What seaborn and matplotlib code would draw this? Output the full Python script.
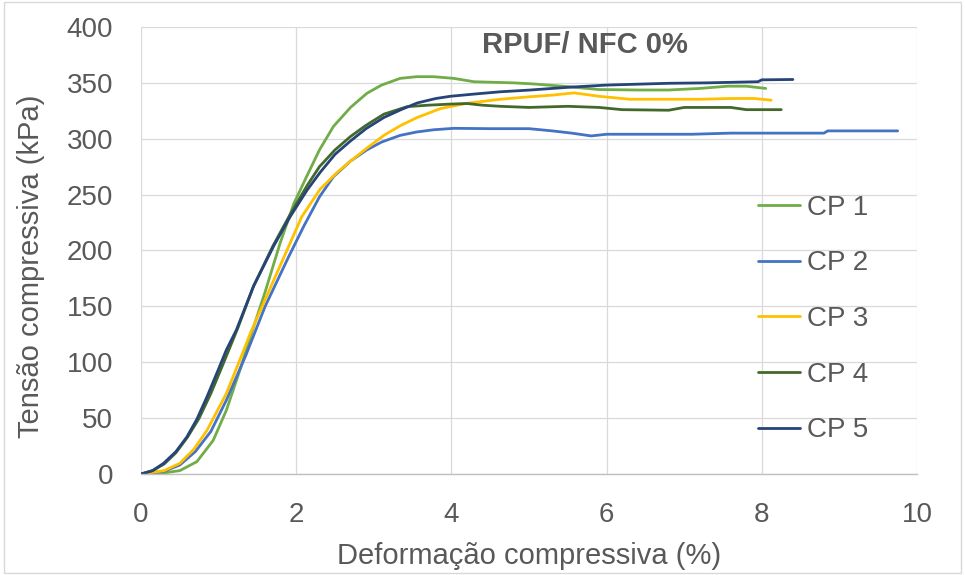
import matplotlib
matplotlib.use("Agg")
import matplotlib.pyplot as plt
import seaborn as sns
import pandas as pd
from matplotlib.patches import Rectangle

# ---- data ----
series_names = ["CP 1", "CP 2", "CP 3", "CP 4", "CP 5"]

cp1_x = [0, 0.3, 0.5, 0.72, 0.93, 1.1, 1.28, 1.41, 1.6, 1.79, 1.97, 2.14, 2.3, 2.48, 2.7, 2.91, 3.1,
         3.34, 3.55, 3.77, 4.03, 4.29, 4.8, 5.06, 5.5, 5.9, 6.4, 6.8, 7.2, 7.56, 7.8, 8.05]
cp1_y = [0, 1, 3, 11, 30, 57, 94, 123, 163, 206, 242, 267, 290, 311, 328, 340.6, 348,
         354, 355.5, 355.5, 354, 351, 350, 349, 346.6, 344, 343.6, 343.6, 345, 347, 347, 345]

cp2_x = [0, 0.3, 0.5, 0.7, 0.9, 1.1, 1.35, 1.6, 1.9, 2.1, 2.3, 2.48, 2.7, 2.91, 3.1, 3.34, 3.55,
         3.77, 4.03, 4.5, 5.0, 5.3, 5.55, 5.8, 6.0, 6.5, 7.1, 7.6, 8.2, 8.8, 8.85, 9.3, 9.75]
cp2_y = [0, 2.5, 8, 20, 38, 66, 106, 150, 194, 222, 248, 266, 280, 290, 297, 303, 306,
         308, 309.3, 309, 309, 307, 305, 302.5, 304, 304, 304, 305, 305, 305, 307, 307, 307]

cp3_x = [0, 0.3, 0.5, 0.68, 0.85, 1.1, 1.32, 1.41, 1.6, 1.88, 2.07, 2.31, 2.53, 2.7, 2.9, 3.13,
         3.35, 3.56, 3.86, 4.2, 4.63, 5.0, 5.3, 5.58, 5.9, 6.3, 6.8, 7.2, 7.6, 7.9, 8.12]
cp3_y = [0, 3, 9.5, 22, 39, 72, 110, 126, 156, 200, 230, 255, 270, 280, 291, 303,
         312, 319, 327, 331.7, 335.3, 337.5, 339, 341, 338, 335.3, 335.3, 335.3, 336, 336, 334.5]

cp4_x = [0, 0.15, 0.3, 0.45, 0.6, 0.75, 0.9, 1.05, 1.25, 1.45, 1.7, 1.92, 2.14, 2.3, 2.5, 2.7,
         2.9, 3.13, 3.43, 3.7, 3.99, 4.2, 4.4, 4.63, 5.0, 5.5, 5.9, 6.2, 6.8, 7.0, 7.6, 7.8, 8.25]
cp4_y = [0, 3, 9, 19, 33, 50, 72, 97, 131, 168, 204, 232, 258, 275, 290, 302,
         312, 322, 328.7, 330, 331, 331.5, 330, 329, 328, 329, 328, 326, 325.5, 328, 328, 326, 326]

cp5_x = [0, 0.15, 0.29, 0.45, 0.59, 0.72, 0.85, 1.0, 1.1, 1.23, 1.45, 1.71, 1.92, 2.14, 2.31,
         2.5, 2.7, 2.9, 3.13, 3.35, 3.56, 3.8, 3.99, 4.3, 4.63, 5.0, 5.5, 6.0, 6.5, 6.8, 7.3,
         7.95, 8.0, 8.4]
cp5_y = [0, 3, 9.5, 20, 33, 49, 69, 94, 111, 129, 168, 204, 230, 254, 270,
         286, 298, 309, 319, 326, 332, 336, 338, 340, 342, 343.5, 346, 348, 349, 349.6, 350,
         351, 352.7, 353]

series_colors = ["#70AD47", "#4472C4", "#FFC000", "#43682B", "#264478"]

x_ticks = [0, 2, 4, 6, 8, 10]
y_ticks = [0, 50, 100, 150, 200, 250, 300, 350, 400]

title_text = "RPUF/ NFC 0%"
x_label = "Deformação compressiva (%)"
y_label = "Tensão compressiva (kPa)"

# ---- build long-form table ----
xs = [cp1_x, cp2_x, cp3_x, cp4_x, cp5_x]
ys = [cp1_y, cp2_y, cp3_y, cp4_y, cp5_y]
frames = []
for name, xv, yv in zip(series_names, xs, ys):
    frames.append(pd.DataFrame({"x": xv, "y": yv, "serie": name}))
df = pd.concat(frames, ignore_index=True)

# ---- style ----
sns.set_theme(style="white")
plt.rcParams["font.family"] = ["Liberation Sans", "DejaVu Sans"]
text_color = "#595959"
grid_color = "#d9d9d9"

fig = plt.figure(figsize=(9.65, 5.75), dpi=100)
ax = fig.add_axes([0.1461, 0.1757, 0.8042, 0.7774])

sns.lineplot(data=df, x="x", y="y", hue="serie", hue_order=series_names,
             palette=dict(zip(series_names, series_colors)), sort=False,
             estimator=None, linewidth=2.0, ax=ax)

ax.set_xlim(0, 10)
ax.set_ylim(0, 400)
ax.set_xticks(x_ticks)
ax.set_yticks(y_ticks)
ax.set_xticklabels([str(t) for t in x_ticks])
ax.set_yticklabels([str(t) for t in y_ticks])
ax.grid(True, color=grid_color, linewidth=0.9)
ax.set_axisbelow(True)
ax.tick_params(axis="both", length=0, labelsize=20, colors=text_color)
ax.tick_params(axis="y", pad=20)
ax.tick_params(axis="x", pad=20)
for s in ["top", "right", "left"]:
    ax.spines[s].set_visible(False)
ax.spines["bottom"].set_color("#bfbfbf")
ax.spines["bottom"].set_linewidth(1.0)

ax.set_xlabel(x_label, fontsize=21, color=text_color, labelpad=10)
ax.set_ylabel(y_label, fontsize=21, color=text_color)
ax.yaxis.set_label_coords(-0.124, 0.465)

ax.text(5.72, 384, title_text, ha="center", va="center", fontsize=21,
        fontweight="bold", color=text_color)

leg = ax.legend(loc="center left", bbox_to_anchor=(0.795, 0.3468), frameon=False,
                fontsize=20, handlelength=1.5, handletextpad=0.25, labelspacing=1.07,
                borderpad=0, borderaxespad=0)
for t in leg.get_texts():
    t.set_color(text_color)
for h in leg.get_lines():
    h.set_linewidth(2.0)

# outer chart border
fig.patches.append(Rectangle((0.004, 0.004), 0.992, 0.992, transform=fig.transFigure,
                             fill=False, edgecolor="#d9d9d9", linewidth=1.0))

fig.savefig("out.png", dpi=100)
